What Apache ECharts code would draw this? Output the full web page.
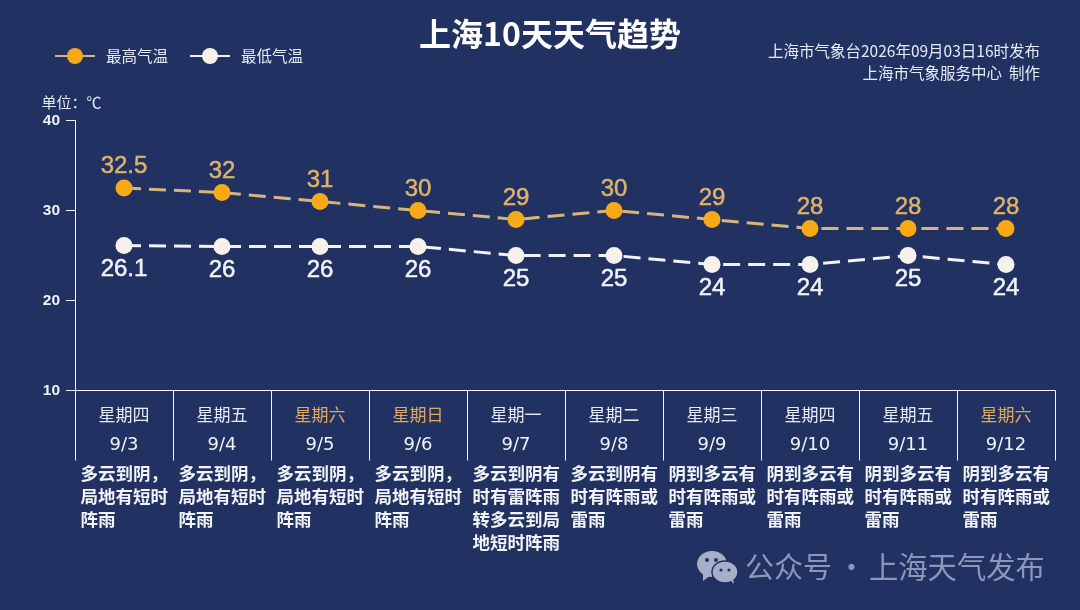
<!DOCTYPE html>
<html><head><meta charset="utf-8">
<style>html,body{margin:0;padding:0;background:#213162}#c{width:1080px;height:610px}</style>
<script src="https://cdn.jsdelivr.net/npm/echarts@6/dist/echarts.min.js"></script>
</head><body><div id="c"></div>
<script>
const dates = ['9/3','9/4','9/5','9/6','9/7','9/8','9/9','9/10','9/11','9/12'];
const weekdays = ['星期四','星期五','星期六','星期日','星期一','星期二','星期三','星期四','星期五','星期六'];
const weather = [
 '多云到阴，\n局地有短时\n阵雨','多云到阴，\n局地有短时\n阵雨','多云到阴，\n局地有短时\n阵雨','多云到阴，\n局地有短时\n阵雨',
 '多云到阴有\n时有雷阵雨\n转多云到局\n地短时阵雨','多云到阴有\n时有阵雨或\n雷雨','阴到多云有\n时有阵雨或\n雷雨','阴到多云有\n时有阵雨或\n雷雨','阴到多云有\n时有阵雨或\n雷雨','阴到多云有\n时有阵雨或\n雷雨'];
const highs = [32.5,32,31,30,29,30,29,28,28,28];
const lows = [26.1,26,26,26,25,25,24,24,25,24];
const CJK = '"Noto Sans CJK SC","Noto Sans",sans-serif';
const LAT = '"Liberation Sans",Arial,sans-serif';
const chart = echarts.init(document.getElementById('c'), null, {renderer:'canvas'});
const rich = {
  wk:{width:87,align:'center',fontFamily:CJK,fontSize:17,color:'#e6ebf5',height:30,lineHeight:30},
  wkO:{width:87,align:'center',fontFamily:CJK,fontSize:17,color:'#e0a95c',height:30,lineHeight:30},
  dt:{width:87,align:'center',fontFamily:'"DejaVu Sans",sans-serif',fontSize:18,color:'#f0f3f8',height:32,lineHeight:32},
  w:{width:87,align:'left',fontFamily:CJK,fontWeight:'bold',fontSize:17.5,color:'#f2f4f8',height:23,lineHeight:23}
};
chart.setOption({
  backgroundColor:'#213162',
  animation:false,
  title:[
    {text:'上海10天天气趋势',left:545,top:13,textAlign:'center',textStyle:{color:'#fff',fontFamily:CJK,fontWeight:'bold',fontSize:32}},
    {text:'上海市气象台2026年09月03日16时发布',right:35,top:38,textStyle:{color:'#e6ebf5',fontFamily:CJK,fontWeight:'normal',fontSize:15.5}},
    {text:'上海市气象服务中心  制作',right:35,top:60,textStyle:{color:'#e6ebf5',fontFamily:CJK,fontWeight:'normal',fontSize:15.5}}
  ],
  legend:{left:49,top:43,itemWidth:40,itemHeight:20,itemGap:21,
    lineStyle:{type:'solid'},
    textStyle:{color:'#e6ebf5',fontFamily:CJK,fontSize:15.5,padding:[0,0,0,6]},
    data:['最高气温','最低气温']},
  grid:{left:75,top:120.5,width:980,height:270},
  xAxis:{type:'category',data:dates,boundaryGap:true,
    axisLine:{lineStyle:{color:'#f4f6fa',width:1}},
    axisTick:{show:true,length:70,alignWithLabel:false,lineStyle:{color:'#f4f6fa',width:1}},
    axisLabel:{interval:0,margin:9,hideOverlap:false,
      formatter:(v,i)=>{
        const wk=weekdays[i];
        const s=(wk==='星期六'||wk==='星期日')?'wkO':'wk';
        return '{'+s+'|'+wk+'}\n{dt|'+v+'}\n'+weather[i].split('\n').map(l=>'{w|'+l+'}').join('\n');
      },rich:rich,verticalAlign:'top'}
  },
  yAxis:{type:'value',min:10,max:40,interval:10,
    name:'单位：℃',nameLocation:'end',nameGap:11,
    nameTextStyle:{color:'#e6ebf5',fontFamily:CJK,fontSize:15,align:'center',padding:[0,7,0,0]},
    axisLine:{show:true,lineStyle:{color:'#f4f6fa',width:1}},
    axisTick:{show:true,length:9,lineStyle:{color:'#f4f6fa',width:1}},
    axisLabel:{color:'#f0f3f8',fontFamily:LAT,fontWeight:'bold',fontSize:15.5,margin:15},
    splitLine:{show:false}
  },
  series:[
    {name:'最高气温',type:'line',data:highs,symbol:'circle',symbolSize:17,
     lineStyle:{color:'#d6b57c',width:3,type:[17,8]},
     itemStyle:{color:'#f7a917',borderWidth:0},
     label:{show:true,position:'top',distance:1,color:'#dfb26a',textBorderColor:'#dfb26a',textBorderWidth:0.5,fontFamily:LAT,fontSize:24}},
    {name:'最低气温',type:'line',data:lows,symbol:'circle',symbolSize:17,
     lineStyle:{color:'#f1f3f8',width:3,type:[17,8]},
     itemStyle:{color:'#f6f1ea',borderWidth:0},
     label:{show:true,position:'bottom',distance:3,color:'#f0f3f8',textBorderColor:'#f0f3f8',textBorderWidth:0.5,fontFamily:LAT,fontSize:24}}
  ],
  graphic:[
    {type:'group',left:697,top:551,silent:true,children:[
      {type:'ellipse',shape:{cx:15,cy:13,rx:15,ry:13},style:{fill:'#a7afc8'}},
      {type:'polygon',shape:{points:[[6,21],[6,30],[14,24]]},style:{fill:'#a7afc8'}},
      {type:'ellipse',shape:{cx:28,cy:21,rx:13,ry:11},style:{fill:'#a7afc8',stroke:'#213162',lineWidth:1.5}},
      {type:'polygon',shape:{points:[[33,29],[37,33],[36,27]]},style:{fill:'#a7afc8'}},
      {type:'circle',shape:{cx:10,cy:9,r:2},style:{fill:'#213162'}},
      {type:'circle',shape:{cx:19,cy:9,r:2},style:{fill:'#213162'}},
      {type:'circle',shape:{cx:24,cy:19,r:1.6},style:{fill:'#213162'}},
      {type:'circle',shape:{cx:32,cy:19,r:1.6},style:{fill:'#213162'}}
    ]},
    {type:'text',left:745,top:552,silent:true,style:{text:'公众号',fill:'#8b97b9',font:'29px "Noto Sans CJK SC",sans-serif'}},
    {type:'text',left:837,top:552,silent:true,style:{text:'·',fill:'#8b97b9',font:'29px "Noto Sans CJK SC",sans-serif'}},
    {type:'text',left:869,top:552,silent:true,style:{text:'上海天气发布',fill:'#8b97b9',font:'29.3px "Noto Sans CJK SC",sans-serif'}}
  ]
});
</script></body></html>
